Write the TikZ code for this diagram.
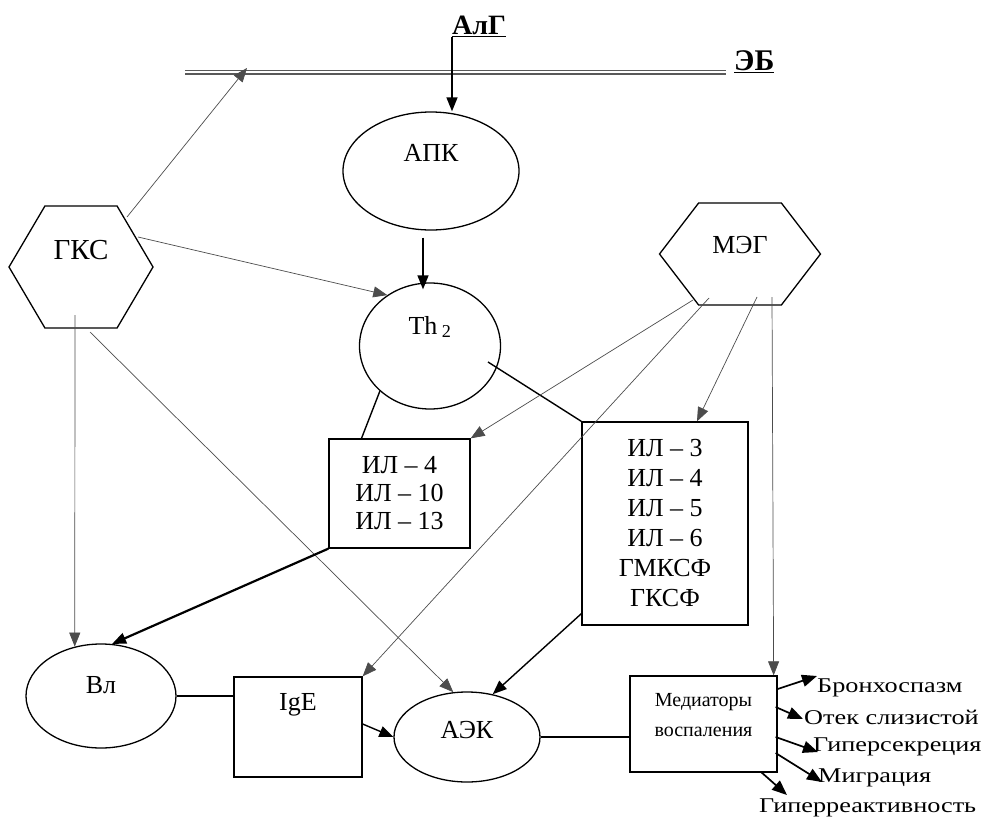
\documentclass[tikz,border=0pt]{standalone}
\usepackage{fontspec}
\setmainfont{Liberation Serif}
\newfontfamily\widefont[FakeStretch=1.25]{Liberation Serif}
\usepackage{tikz}
\usetikzlibrary{calc,shapes.geometric,shapes.symbols,arrows.meta}

\begin{document}
\begin{tikzpicture}[x=1pt,y=-1pt,
		font=\fontsize{26}{30}\selectfont,
		gline/.style={gray!60!black,line width=0.7pt,-{Triangle[length=14pt,width=11pt]}},
		bline/.style={line width=1.4pt},
		barrow/.style={line width=1.4pt,-{Triangle[length=14pt,width=11pt]}},
		oarrow/.style={line width=1.7pt,-{Triangle[length=15pt,width=12pt]}},
		membrane/.style={gray!70!black,line width=1.8pt,double distance=1.4pt},
		oval/.style={draw,ellipse,line width=1.3pt,inner sep=0pt},
		hexa/.style={draw,signal,signal to=west and east,line width=1.3pt,inner sep=0pt},
		box/.style={draw,rectangle,line width=1.3pt,inner sep=0pt,align=center},
		toptxt/.style={anchor=south west,inner sep=0pt,font=\bfseries\fontsize{28}{28}\selectfont},
		outtxt/.style={anchor=west,inner sep=0pt,font=\widefont\fontsize{21}{21}\selectfont}]
	\useasboundingbox(0,0)rectangle(986,819);

	% membrane and antigen
	\node[toptxt](alg)at(452,37){\underline{АлГ}};
	\node[toptxt,font=\bfseries\fontsize{30}{30}\selectfont](eb)at(734,73){\underline{ЭБ}};
	\coordinate(ebl)at(185,72);
	\coordinate(ebr)at(726,72);
	\coordinate(ebhit)at(247,68);
	\draw[membrane](ebl)--(ebr);

	% cells and hormones
	\node[hexa,minimum width=144,minimum height=122,signal pointer angle=119,label={[yshift=17pt,font=\fontsize{29}{30}\selectfont]center:ГКС}](gks)at(81,267){};
	\node[hexa,minimum width=161,minimum height=102,signal pointer angle=105,label={[yshift=9pt]center:МЭГ}](meg)at(740,254){};
	\node[oval,minimum width=176,minimum height=118,label={[yshift=18pt]center:АПК}](apk)at(431,171){};
	\node[oval,minimum width=141,minimum height=126,label={[yshift=19pt]center:Th\,\textsubscript{2}}](th)at(430,346){};
	\node[oval,minimum width=150,minimum height=104,label={[yshift=11pt]center:Вл}](vl)at(101,696){};
	\node[oval,minimum width=146,minimum height=90,label={[yshift=7pt]center:АЭК}](aek)at(467,737){};

	% cytokines
	\node[box,minimum width=141,minimum height=109,font=\fontsize{26}{28}\selectfont](il4)at(399.5,493.5){ИЛ – 4\\ИЛ – 10\\ИЛ – 13};
	\node[box,minimum width=166,minimum height=203](il3)at(665,523.5){ИЛ – 3\\ИЛ – 4\\ИЛ – 5\\ИЛ – 6\\ГМКСФ\\ГКСФ};
	\node[box,minimum width=128,minimum height=100,label={[yshift=22pt]center:IgE}](ige)at(298,727){};
	\node[box,minimum width=147,minimum height=96,label={[yshift=9pt,align=center,font=\fontsize{20}{30}\selectfont]center:Медиаторы\\воспаления}](med)at(703.5,724){};

	% effects
	\node[outtxt](bron)at(817,688){Бронхоспазм};
	\node[outtxt](otek)at(804,717){Отек слизистой};
	\node[outtxt](sekr)at(813,747){Гиперсекреция};
	\node[outtxt](migr)at(818,778){Миграция};
	\node[outtxt](reakt)at(759,808){Гиперреактивность};

	% connectors
	\draw[barrow](alg.south west)--(alg.south west|-apk.north);
	\draw[barrow]([shift={(-8,7)}]apk.south)--([shift={(-8,7)}]apk.south|-th.north);
	\draw[gline]([shift={(46,-50)}]gks.center)--(ebhit);
	\draw[gline]([shift={(57,-30)}]gks.center)--(th.130);
	\draw[gline]([shift={(-6,48)}]gks.center)--(vl.118);
	\draw[gline]([shift={(9,65)}]gks.center)--(aek.107);
	\draw[bline](th.222)--([shift={(-38,0)}]il4.north);
	\draw[bline]([shift={(58,16)}]th.center)--(il3.north west);
	\draw[gline]([shift={(-47,46)}]meg.center)--(il4.north east);
	\draw[gline]([shift={(-31,44)}]meg.center)--(ige.north east);
	\draw[gline]([shift={(17,43)}]meg.center)--([shift={(32,0)}]il3.north);
	\draw[gline]([shift={(32,43)}]meg.center)--([shift={(-4,0)}]med.north east);
	\draw[barrow,line width=2.2pt](il4.south west)--(vl.78);
	\draw[barrow]([shift={(0,-12)}]il3.south west)--(aek.59);
	\draw[bline](vl.east)--(vl.east-|ige.west);
	\draw[barrow]([shift={(0,-3)}]ige.east)--(aek.west);
	\draw[bline](aek.east)--(aek.east-|med.west);
	\draw[oarrow]([shift={(0,-35)}]med.east)--([shift={(0,-12)}]bron.west);
	\draw[oarrow]([shift={(-2,-17)}]med.east)--([shift={(-1,2)}]otek.west);
	\draw[oarrow]([shift={(-2,13)}]med.east)--([shift={(5,5)}]sekr.west);
	\draw[oarrow]([shift={(-2,29)}]med.east)--([shift={(4,4)}]migr.west);
	\draw[oarrow]([shift={(-17,-1)}]med.south east)--([shift={(28,-13)}]reakt.west);
\end{tikzpicture}
\end{document}
